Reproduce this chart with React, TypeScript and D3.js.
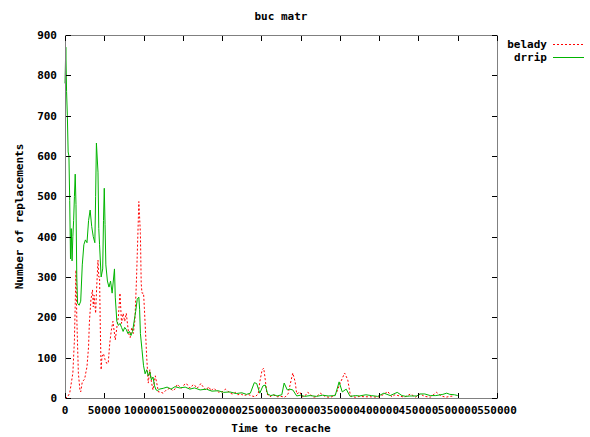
import React, { useEffect, useRef } from 'react'
import * as d3 from 'd3'

// time to recache, in thousands, and number of replacements
const drripTime = [0, 1, 2, 3, 4, 5, 6, 7, 8, 9, 10, 11, 12, 13, 14, 15, 16, 18, 20, 22, 24, 26, 28, 30, 32, 34, 36, 38, 39, 40, 42, 43, 44, 46, 48, 49, 50, 51, 52, 54, 56, 58, 60, 62, 63, 64, 66, 68, 70, 72, 74, 76, 78, 80, 82, 84, 86, 88, 90, 92, 94, 95, 96, 98, 100, 102, 104, 106, 108, 110, 112, 114, 116, 118, 120, 125, 130, 135, 140, 146, 153, 159, 165, 172, 180, 187, 195, 202, 210, 218, 225, 231, 236, 241, 244, 248, 252, 255, 258, 262, 266, 270, 276, 279, 283, 286, 290, 295, 300, 305, 312, 320, 328, 335, 344, 349, 353, 358, 363, 370, 375, 383, 390, 398, 406, 414, 423, 429, 434, 439, 448, 452, 458, 465, 472, 481, 486, 490, 496, 500]
const drripVal = [780, 870, 760, 700, 610, 600, 490, 345, 420, 340, 400, 440, 500, 555, 480, 300, 235, 230, 240, 330, 380, 392, 385, 440, 466, 425, 400, 385, 500, 632, 560, 420, 380, 300, 320, 440, 520, 430, 330, 290, 275, 290, 260, 300, 320, 250, 190, 180, 185, 175, 165, 175, 170, 160, 165, 155, 165, 190, 215, 245, 250, 220, 160, 120, 80, 60, 70, 55, 65, 45, 52, 30, 20, 18, 22, 24, 27, 22, 28, 25, 27, 22, 25, 20, 22, 17, 18, 14, 15, 11, 13, 9, 12, 38, 36, 12, 30, 32, 10, 6, 8, 5, 8, 37, 20, 22, 20, 5, 7, 4, 6, 4, 7, 5, 6, 40, 15, 22, 4, 6, 5, 8, 6, 4, 12, 6, 14, 6, 4, 5, 5, 10, 10, 6, 6, 9, 12, 9, 8, 6]

const beladyTime = [0, 3, 6, 10, 12, 14, 15, 17, 19, 20, 22, 25, 28, 30, 31, 33, 35, 36, 37, 39, 40, 42, 43, 44, 45, 46, 47, 49, 51, 53, 55, 57, 59, 61, 64, 66, 68, 70, 72, 74, 76, 78, 81, 83, 85, 87, 89, 91, 93, 94, 96, 97, 98, 100, 101, 103, 104, 106, 108, 110, 112, 115, 117, 119, 121, 125, 129, 134, 137, 140, 143, 145, 148, 150, 153, 155, 158, 160, 163, 165, 168, 170, 173, 175, 178, 180, 183, 186, 189, 192, 196, 200, 204, 207, 210, 213, 217, 220, 224, 228, 233, 238, 242, 246, 248, 251, 253, 255, 257, 261, 265, 270, 275, 280, 284, 288, 290, 293, 295, 299, 302, 305, 309, 312, 316, 320, 325, 331, 335, 340, 345, 350, 356, 360, 363, 365, 370, 375, 382, 390, 398, 405, 411, 416, 420, 426, 432, 440, 446, 452, 458, 465, 473, 479, 485, 490, 495, 500]
const beladyVal = [0, 2, 12, 62, 144, 317, 200, 62, 20, 15, 40, 47, 78, 127, 186, 243, 268, 226, 255, 210, 260, 342, 300, 300, 168, 70, 102, 110, 95, 86, 86, 136, 168, 190, 144, 175, 202, 260, 185, 210, 190, 210, 160, 150, 175, 160, 193, 293, 420, 487, 408, 285, 260, 260, 225, 144, 102, 37, 70, 40, 20, 55, 35, 15, 15, 12, 20, 25, 18, 22, 34, 30, 24, 28, 36, 35, 26, 25, 33, 32, 24, 28, 36, 30, 22, 20, 28, 18, 24, 20, 14, 15, 22, 18, 12, 10, 14, 8, 10, 6, 9, 5, 3, 10, 40, 70, 74, 45, 10, 3, 8, 3, 4, 2, 10, 45, 62, 40, 10, 15, 3, 4, 14, 10, 2, 3, 12, 4, 2, 3, 10, 35, 62, 45, 10, 3, 2, 4, 3, 3, 2, 8, 16, 3, 8, 5, 2, 10, 2, 10, 4, 2, 14, 5, 2, 4, 5]

const xTicks = [0, 50000, 100000, 150000, 200000, 250000, 300000, 350000, 400000, 450000, 500000, 550000]
const yTicks = [0, 100, 200, 300, 400, 500, 600, 700, 800, 900]

const series = [
  { name: 'belady', time: beladyTime, val: beladyVal, color: '#ff0000', dash: '2,2' },
  { name: 'drrip', time: drripTime, val: drripVal, color: '#00b400', dash: null },
]

export default function App() {
  const ref = useRef<SVGSVGElement>(null)

  useEffect(() => {
    const width = 590
    const height = 437
    const left = 65, right = 497, top = 35, bottom = 398
    const font = "'DejaVu Sans Mono', monospace"

    const svg = d3.select(ref.current)
    svg.selectAll('*').remove()
    svg.attr('width', width).attr('height', height)

    const x = d3.scaleLinear().domain([0, 550000]).range([left, right])
    const y = d3.scaleLinear().domain([0, 900]).range([bottom, top])

    // data lines first, border on top
    series.forEach(function (s) {
      const pts = s.time.map((t, i) => [t * 1000, s.val[i]] as [number, number])
      const line = d3.line<[number, number]>().x(d => x(d[0])).y(d => y(d[1]))
      const p = svg.append('path')
        .datum(pts)
        .attr('d', line)
        .attr('fill', 'none')
        .attr('stroke', s.color)
        .attr('stroke-width', 1)
      if (s.dash) p.attr('stroke-dasharray', s.dash)
    })

    svg.append('rect')
      .attr('x', left + 0.5).attr('y', top + 0.5)
      .attr('width', right - left).attr('height', bottom - top)
      .attr('fill', 'none').attr('stroke', '#808080')

    const tickLen = 5
    xTicks.forEach(function (t) {
      const px = Math.round(x(t)) + 0.5
      svg.append('line').attr('x1', px).attr('x2', px).attr('y1', bottom).attr('y2', bottom - tickLen).attr('stroke', '#000')
      svg.append('line').attr('x1', px).attr('x2', px).attr('y1', top + 1).attr('y2', top + 1 + tickLen).attr('stroke', '#000')
      svg.append('text')
        .attr('x', x(t)).attr('y', bottom + 16)
        .attr('text-anchor', 'middle')
        .style('font-family', font).style('font-size', '11px').style('font-weight', 'bold')
        .text(t)
    })
    yTicks.forEach(function (t) {
      const py = Math.round(y(t)) + 0.5
      svg.append('line').attr('x1', left + 1).attr('x2', left + 1 + tickLen).attr('y1', py).attr('y2', py).attr('stroke', '#000')
      svg.append('line').attr('x1', right).attr('x2', right - tickLen).attr('y1', py).attr('y2', py).attr('stroke', '#000')
      svg.append('text')
        .attr('x', left - 8).attr('y', y(t) + 4)
        .attr('text-anchor', 'end')
        .style('font-family', font).style('font-size', '11px').style('font-weight', 'bold')
        .text(t)
    })

    svg.append('text')
      .attr('x', (left + right) / 2).attr('y', 20)
      .attr('text-anchor', 'middle')
      .style('font-family', font).style('font-size', '11px').style('font-weight', 'bold')
      .text('buc matr')

    svg.append('text')
      .attr('x', (left + right) / 2).attr('y', 432)
      .attr('text-anchor', 'middle')
      .style('font-family', font).style('font-size', '11px').style('font-weight', 'bold')
      .text('Time to recache')

    svg.append('text')
      .attr('transform', 'translate(23,' + ((top + bottom) / 2) + ') rotate(-90)')
      .attr('text-anchor', 'middle')
      .style('font-family', font).style('font-size', '11px').style('font-weight', 'bold')
      .text('Number of replacements')

    // legend
    series.forEach(function (s, i) {
      const ly = 44 + i * 13
      svg.append('text')
        .attr('x', 547).attr('y', ly + 4)
        .attr('text-anchor', 'end')
        .style('font-family', font).style('font-size', '11px').style('font-weight', 'bold')
        .text(s.name)
      const l = svg.append('line')
        .attr('x1', 553).attr('x2', 584).attr('y1', ly + 0.5).attr('y2', ly + 0.5)
        .attr('stroke', s.color)
      if (s.dash) l.attr('stroke-dasharray', s.dash)
    })
  }, [])

  return (
    <div>
      <style>{'body{margin:0}'}</style>
      <svg ref={ref}></svg>
    </div>
  )
}
